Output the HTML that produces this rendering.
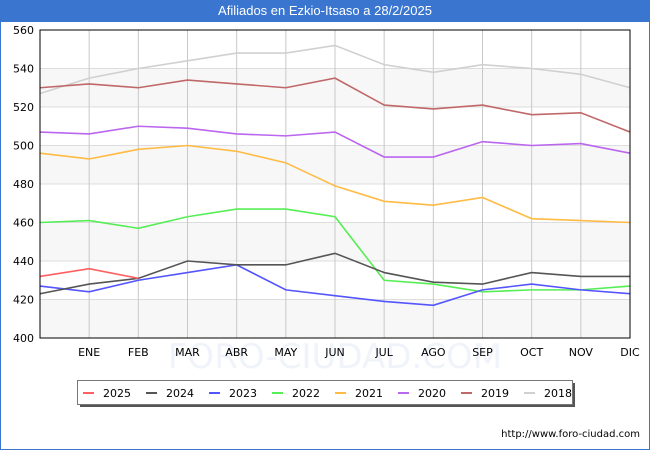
<!DOCTYPE html>
<html><head><meta charset="utf-8"><style>
body{margin:0;width:650px;height:450px;overflow:hidden;background:#fff;font-family:"Liberation Sans","DejaVu Sans",sans-serif;}
#frame{position:absolute;left:0;top:0;width:648px;height:448px;border:1px solid #3a75d0;}
#title{position:absolute;left:0;top:0;width:650px;height:22px;background:#3a75d0;color:#fff;font-size:13px;text-align:center;line-height:22px;}
svg text{font-family:"DejaVu Sans","Liberation Sans",sans-serif;font-size:11px;fill:#000;}
</style></head><body>
<div id="frame"></div>
<div id="title">Afiliados en Ezkio-Itsaso a 28/2/2025</div>
<svg id="chart" width="650" height="450" style="position:absolute;left:0;top:0"></svg>
<script>
const categories=["","ENE","FEB","MAR","ABR","MAY","JUN","JUL","AGO","SEP","OCT","NOV","DIC"];
const yTicks=[400,420,440,460,480,500,520,540,560];
const seriesNames=["2025","2024","2023","2022","2021","2020","2019","2018"];
const seriesColors=["#ff6060","#555555","#5555ff","#55ee55","#ffbb44","#bb66ee","#c06868","#d0d0d0"];
const s2025=[432,436,431];
const s2024=[423,428,431,440,438,438,444,434,429,428,434,432,432];
const s2023=[427,424,430,434,438,425,422,419,417,425,428,425,423];
const s2022=[460,461,457,463,467,467,463,430,428,424,425,425,427];
const s2021=[496,493,498,500,497,491,479,471,469,473,462,461,460];
const s2020=[507,506,510,509,506,505,507,494,494,502,500,501,496];
const s2019=[530,532,530,534,532,530,535,521,519,521,516,517,507];
const s2018=[527,535,540,544,548,548,552,542,538,542,540,537,530];
const seriesData=[s2025,s2024,s2023,s2022,s2021,s2020,s2019,s2018];
const X0=40,X1=630,Y0=30,Y1=338,YMIN=400,YMAX=560;
const xs=i=>X0+i*(X1-X0)/12;
const ys=v=>Y1-(v-YMIN)*(Y1-Y0)/(YMAX-YMIN);
const svg=document.getElementById('chart');
const NS='http://www.w3.org/2000/svg';
function mk(t,a){const e=document.createElementNS(NS,t);for(const k in a)e.setAttribute(k,a[k]);svg.appendChild(e);return e;}
for(let i=0;i<yTicks.length-1;i++){
  if(i%2===0){const b=mk('rect',{x:X0,y:ys(yTicks[i+1]),width:X1-X0,height:ys(yTicks[i])-ys(yTicks[i+1]),fill:'#f7f7f7'});
  
  }
}
yTicks.forEach(v=>{
  const l=mk('line',{x1:X0,x2:X1,y1:ys(v),y2:ys(v),stroke:'#dddddd','stroke-width':1});
  
  
  const t=mk('text',{x:X0-6,y:ys(v)+4,'text-anchor':'end'});t.textContent=v;
  
  
});
const wm=mk('text',{x:335,y:368,'text-anchor':'middle',style:'font-size:34px;fill:#f1f3fb'});wm.textContent='FORO-CIUDAD.COM';


categories.forEach((c,i)=>{
  if(i===0)return;
  const l=mk('line',{x1:xs(i),x2:xs(i),y1:Y0,y2:Y1,stroke:'#c8c8c8','stroke-width':1});
  
  
  const t=mk('text',{x:xs(i),y:Y1+18,'text-anchor':'middle'});t.textContent=c;
  
  
});
for(let s=seriesData.length-1;s>=0;s--){
  const pts=seriesData[s].map((v,i)=>xs(i)+','+ys(v)).join(' ');
  const p=mk('polyline',{points:pts,fill:'none',stroke:seriesColors[s],'stroke-width':1.6});
  
  
}
const ax=mk('rect',{x:X0,y:Y0,width:X1-X0,height:Y1-Y0,fill:'none',stroke:'#000','stroke-width':1});


const sh=mk('rect',{x:80,y:383,width:495,height:24,fill:'#555'});


const lb=mk('rect',{x:77.5,y:380.5,width:495,height:24,fill:'#fff',stroke:'#777'});


seriesNames.forEach((n,i)=>{
  const x=83+i*63;
  const m=mk('line',{x1:x,x2:x+11,y1:393,y2:393,stroke:seriesColors[i],'stroke-width':2});
  
  
  const t=mk('text',{x:x+20,y:397});t.textContent=n;
  
  
});
const u=mk('text',{x:640,y:437,'text-anchor':'end',style:'font-size:10px'});u.textContent='http://www.foro-ciudad.com';


</script>
</body></html>
